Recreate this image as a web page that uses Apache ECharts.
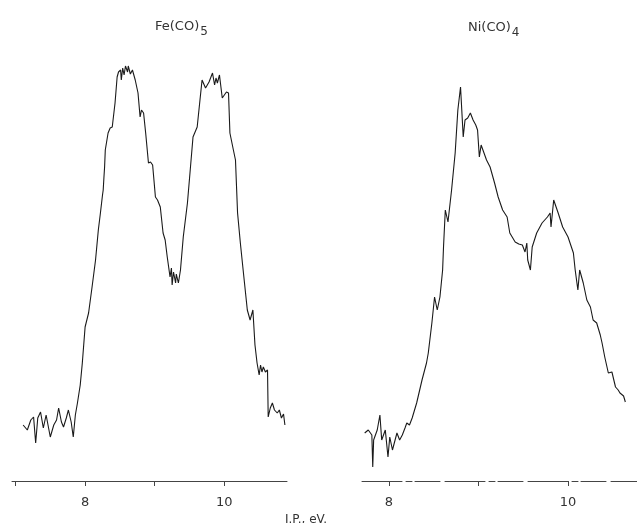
<!DOCTYPE html>
<html>
<head>
<meta charset="utf-8">
<script src="https://cdn.jsdelivr.net/npm/echarts@6/dist/echarts.min.js"></script>
<style>
  html, body { margin: 0; padding: 0; background: #fff; }
  #main { width: 637px; height: 523px; }
</style>
</head>
<body>
<div id="main"></div>
<script>
// Fe(CO)5 spectrum: ionization potential (eV) and counts (arbitrary units)
var feEnergy = [7.11,7.17,7.22,7.26,7.29,7.32,7.36,7.40,7.44,7.50,
    7.55,7.59,7.62,7.66,7.69,7.73,7.76,7.80,7.83,7.86,
    7.89,7.93,7.96,8.00,8.05,8.10,8.15,8.19,8.22,8.25,
    8.26,8.27,8.28,8.29,8.33,8.36,8.39,8.43,8.46,8.48,
    8.51,8.52,8.54,8.56,8.58,8.61,8.62,8.65,8.68,8.72,
    8.76,8.79,8.81,8.84,8.87,8.91,8.94,8.97,9.01,9.04,
    9.08,9.12,9.15,9.18,9.22,9.24,9.25,9.27,9.30,9.31,
    9.34,9.37,9.41,9.47,9.51,9.55,9.61,9.65,9.68,9.73,
    9.75,9.78,9.83,9.86,9.88,9.90,9.93,9.94,9.97,9.98,
    10.03,10.06,10.08,10.13,10.16,10.19,10.23,10.27,10.33,10.37,
    10.41,10.44,10.47,10.50,10.52,10.54,10.56,10.59,10.62,10.63,
    10.66,10.69,10.72,10.76,10.79,10.82,10.85,10.87];
var feCounts = [56,51,61,64,38,63,69,53,66,44,
    56,61,73,59,54,63,71,59,44,66,
    78,96,118,154,168,194,221,251,268,286,
    291,303,314,331,348,353,354,378,404,409,
    411,401,413,406,415,409,415,407,411,401,
    388,364,371,368,348,318,319,316,284,281,
    274,248,241,224,204,213,196,209,198,207,
    198,211,244,278,311,344,354,381,401,393,
    391,399,408,396,403,398,406,404,383,381,
    389,388,348,331,321,268,238,211,171,161,
    171,136,118,106,116,109,114,109,111,64,
    73,78,71,68,71,63,67,56];

// Ni(CO)4 spectrum
var niEnergy = [7.73,7.77,7.81,7.82,7.83,7.87,7.90,7.92,7.96,7.99,
    8.01,8.04,8.09,8.12,8.15,8.18,8.20,8.23,8.26,8.31,
    8.37,8.42,8.44,8.48,8.51,8.54,8.57,8.60,8.61,8.63,
    8.66,8.70,8.74,8.77,8.80,8.83,8.85,8.88,8.91,8.94,
    8.97,8.99,9.01,9.03,9.05,9.09,9.13,9.18,9.22,9.27,
    9.32,9.35,9.41,9.45,9.49,9.52,9.54,9.55,9.58,9.60,
    9.65,9.71,9.77,9.80,9.81,9.84,9.89,9.94,10.00,10.06,
    10.08,10.11,10.13,10.17,10.21,10.25,10.28,10.32,10.36,10.38,
    10.41,10.45,10.49,10.53,10.56,10.58,10.62,10.64];
var niCounts = [48,51,46,14,41,51,66,41,51,24,
    44,31,48,41,46,53,58,56,63,78,
    101,118,128,158,184,171,184,211,234,271,
    259,291,328,371,394,344,361,363,368,361,
    356,351,324,336,331,321,314,298,284,271,
    264,248,239,237,236,229,238,221,211,234,
    248,258,264,268,254,281,268,254,244,228,
    211,191,211,198,181,174,161,158,146,138,
    124,108,109,94,91,88,85,79];

var tickValues = [[7, 8, 9, 10], [8, 9, 10]];
var labelValues = [8, 10];

function pairs(xs, ys) {
    var out = [];
    for (var i = 0; i < xs.length; i++) out.push([xs[i], ys[i]]);
    return out;
}

var chart = echarts.init(document.getElementById('main'), null, { renderer: 'canvas' });

var axisCommon = {
    type: 'value',
    axisLine: { lineStyle: { color: '#444', width: 1 } },
    axisTick: { length: 5, lineStyle: { color: '#444' } },
    axisLabel: { color: '#333', fontSize: 13, fontFamily: 'DejaVu Sans', margin: 15 },
    splitLine: { show: false }
};

var option = {
    backgroundColor: '#fff',
    animation: false,
    title: [
        {
            text: 'Fe(CO){s|5}', left: 150, top: 11,
            textStyle: { fontSize: 13, fontWeight: 'normal', color: '#333', fontFamily: 'DejaVu Sans',
                rich: { s: { fontSize: 12, color: '#333', padding: [10, 0, 0, 1] } } }
        },
        {
            text: 'Ni(CO){s|4}', left: 463, top: 12,
            textStyle: { fontSize: 13, fontWeight: 'normal', color: '#333', fontFamily: 'DejaVu Sans',
                rich: { s: { fontSize: 12, color: '#333', padding: [10, 0, 0, 1] } } }
        },
        {
            text: 'I.P., eV.', left: 280, top: 509,
            textStyle: { fontSize: 12, fontWeight: 'normal', color: '#333', fontFamily: 'DejaVu Sans' }
        }
    ],
    grid: [
        { left: 12, width: 275, top: 41, height: 440 },
        { left: 362, width: 275, top: 41, height: 440 }
    ],
    xAxis: [
        echarts.util.merge({
            gridIndex: 0, min: 6.95, max: 10.9,
            axisTick: { customValues: tickValues[0] },
            axisLabel: { customValues: labelValues }
        }, axisCommon),
        echarts.util.merge({
            gridIndex: 1, min: 7.7, max: 10.77,
            axisLine: { lineStyle: { type: [40, 4, 6, 3, 25, 5] } },
            axisTick: { customValues: tickValues[1] },
            axisLabel: { customValues: labelValues }
        }, axisCommon)
    ],
    yAxis: [
        { type: 'value', gridIndex: 0, min: 0, max: 440, show: false },
        { type: 'value', gridIndex: 1, min: 0, max: 440, show: false }
    ],
    series: [
        {
            name: 'Fe(CO)5', type: 'line', xAxisIndex: 0, yAxisIndex: 0,
            data: pairs(feEnergy, feCounts), showSymbol: false,
            lineStyle: { color: '#1a1a1a', width: 1.1 }
        },
        {
            name: 'Ni(CO)4', type: 'line', xAxisIndex: 1, yAxisIndex: 1,
            data: pairs(niEnergy, niCounts), showSymbol: false,
            lineStyle: { color: '#1a1a1a', width: 1.1 }
        }
    ]
};

chart.setOption(option);
</script>
</body>
</html>
